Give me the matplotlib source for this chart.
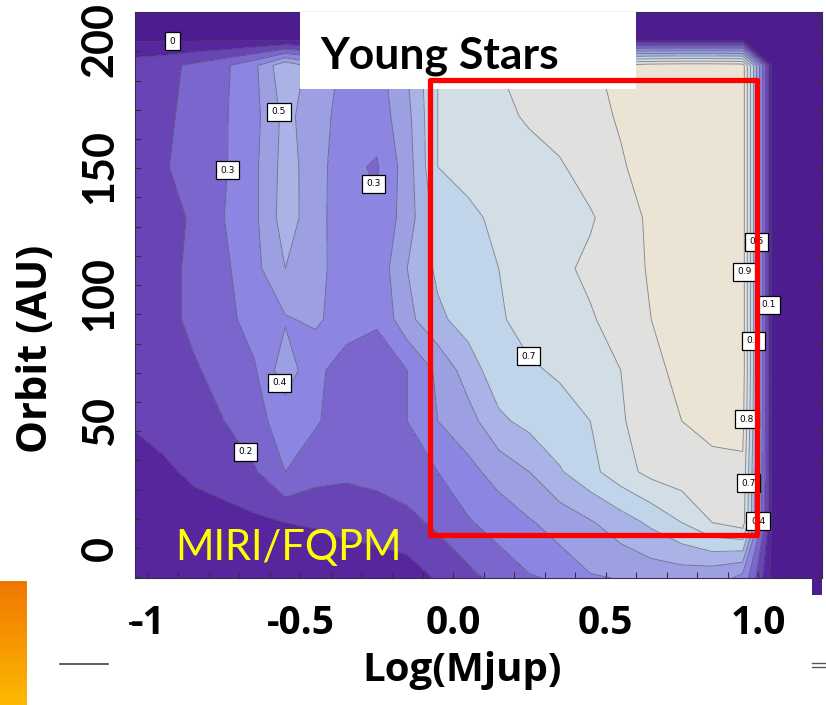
import numpy as np
import matplotlib
matplotlib.use("Agg")
import matplotlib.pyplot as plt
from matplotlib.colors import LinearSegmentedColormap
from matplotlib.patches import Rectangle
from matplotlib.lines import Line2D
from matplotlib.ticker import MultipleLocator

# grid columns: log10 of planet mass (Mjup)
log_mjup = [-1.05, -0.95, -0.85, -0.75, -0.65, -0.55, -0.45, -0.35, -0.25, -0.15,
            -0.05, 0.05, 0.15, 0.25, 0.35, 0.45, 0.55, 0.65, 0.75, 0.85,
            0.95, 1.05, 1.15, 1.25]
# grid rows: orbit (AU)
orbit_au = [-20, -10, 10, 30, 50, 70, 90, 110, 130, 150, 170, 190, 200, 215]

# detection probability, one row per orbit
prob_m20 = [0.01, 0.01, 0.01, 0.01, 0.01, 0.02, 0.02, 0.03, 0.03, 0.04, 0.07, 0.11,
            0.16, 0.20, 0.24, 0.28, 0.32, 0.34, 0.36, 0.36, 0.30, -0.05, -0.05, -0.05]
prob_m10 = [0.02, 0.02, 0.02, 0.02, 0.02, 0.03, 0.03, 0.04, 0.04, 0.06, 0.12, 0.18,
            0.25, 0.30, 0.35, 0.40, 0.43, 0.45, 0.46, 0.45, 0.40, -0.05, -0.05, -0.05]
prob_10 = [0.02, 0.03, 0.05, 0.06, 0.08, 0.10, 0.11, 0.13, 0.15, 0.17, 0.22, 0.29,
           0.34, 0.39, 0.44, 0.49, 0.55, 0.62, 0.70, 0.80, 0.85, -0.05, -0.05, -0.05]
prob_30 = [0.05, 0.08, 0.12, 0.15, 0.19, 0.30, 0.24, 0.22, 0.23, 0.26, 0.30, 0.37,
           0.44, 0.50, 0.59, 0.67, 0.76, 0.83, 0.86, 0.88, 0.88, -0.05, -0.05, -0.05]
prob_50 = [0.11, 0.14, 0.17, 0.20, 0.27, 0.34, 0.31, 0.25, 0.25, 0.30, 0.40, 0.46,
           0.58, 0.63, 0.67, 0.70, 0.79, 0.85, 0.90, 0.92, 0.93, -0.05, -0.05, -0.05]
prob_70 = [0.13, 0.15, 0.19, 0.23, 0.29, 0.46, 0.32, 0.26, 0.26, 0.30, 0.42, 0.55,
           0.66, 0.69, 0.71, 0.74, 0.80, 0.87, 0.93, 0.95, 0.95, -0.05, -0.05, -0.05]
prob_90 = [0.14, 0.17, 0.22, 0.27, 0.34, 0.39, 0.42, 0.34, 0.31, 0.47, 0.58, 0.64,
           0.69, 0.73, 0.76, 0.79, 0.84, 0.90, 0.95, 0.96, 0.95, -0.05, -0.05, -0.05]
prob_110 = [0.14, 0.17, 0.22, 0.28, 0.37, 0.50, 0.43, 0.35, 0.33, 0.50, 0.62, 0.66,
            0.70, 0.73, 0.78, 0.82, 0.86, 0.91, 0.96, 0.96, 0.95, -0.05, -0.05, -0.05]
prob_130 = [0.14, 0.17, 0.21, 0.30, 0.38, 0.55, 0.44, 0.33, 0.31, 0.45, 0.64, 0.68,
            0.72, 0.75, 0.77, 0.79, 0.85, 0.92, 0.96, 0.96, 0.95, -0.05, -0.05, -0.05]
prob_150 = [0.14, 0.19, 0.24, 0.29, 0.38, 0.54, 0.45, 0.32, 0.29, 0.45, 0.70, 0.73,
            0.75, 0.77, 0.79, 0.84, 0.89, 0.94, 0.96, 0.96, 0.95, -0.05, -0.05, -0.05]
prob_170 = [0.15, 0.18, 0.23, 0.29, 0.37, 0.53, 0.44, 0.36, 0.34, 0.47, 0.70, 0.74,
            0.78, 0.81, 0.84, 0.87, 0.91, 0.95, 0.96, 0.96, 0.95, -0.05, -0.05, -0.05]
prob_190 = [0.15, 0.17, 0.22, 0.28, 0.38, 0.58, 0.45, 0.38, 0.36, 0.50, 0.70, 0.75,
            0.80, 0.83, 0.86, 0.89, 0.92, 0.95, 0.96, 0.96, 0.95, -0.05, -0.05, -0.05]
prob_200 = [-0.01] * 21 + [-0.05] * 3
prob_215 = [-0.05] * 24

detect_prob = np.array([prob_m20, prob_m10, prob_10, prob_30, prob_50, prob_70,
                        prob_90, prob_110, prob_130, prob_150, prob_170, prob_190,
                        prob_200, prob_215])

fill_levels = [-0.1, 0.0, 0.1, 0.2, 0.3, 0.4, 0.5, 0.6, 0.7, 0.8, 0.9, 1.0]
line_levels = [0.0, 0.1, 0.2, 0.3, 0.4, 0.5, 0.6, 0.7, 0.8, 0.9]
band_colors = ['#4d1c8f', '#57259d', '#6944b5', '#7b66cd', '#8c86e2', '#9ca0e3',
               '#aab3e6', '#c1d5ea', '#d2dee6', '#e0e1de', '#ebe4d5']

# (level, log mass, orbit) where contour labels sit
label_spots = [(0.0, -0.921, 200.8), (0.5, -0.551, 172.0), (0.3, -0.738, 148.8),
               (0.3, -0.311, 141.0), (0.4, -0.577, 64.6), (0.2, -0.666, 39.0),
               (0.7, 0.203, 72.4), (0.5, 0.984, 120.5), (0.9, 0.934, 108.7),
               (0.1, 1.039, 95.7), (0.6, 0.974, 81.5), (0.8, 0.944, 50.8),
               (0.7, 0.951, 25.6), (0.4, 0.997, 10.6)]

xtick_vals = [-1.0, -0.5, 0.0, 0.5, 1.0]
xtick_text = ['-1', '-0.5', '0.0', '0.5', '1.0']
ytick_vals = [0, 50, 100, 150, 200]
ytick_text = ['0', '50', '100', '150', '200']

W, H = 826, 705


def fx(px):
    return px / W


def fy(py):
    return 1 - py / H


fig = plt.figure(figsize=(W / 100, H / 100), dpi=100)
fig.patch.set_facecolor('white')

ax = fig.add_axes([fx(135), fy(578), fx(822) - fx(135), fy(12) - fy(578)])
ax.contourf(log_mjup, orbit_au, detect_prob, levels=fill_levels, colors=band_colors)
cs = ax.contour(log_mjup, orbit_au, detect_prob, levels=line_levels,
                colors='#48485a', linewidths=0.65, alpha=0.6)

ax.set_xlim(-1.0426, 1.2098)
ax.set_ylim(-11.81, 211.02)

# one invisible contour per label so each label lands on its own level
for lev, lx, ly in label_spots:
    one = ax.contour(log_mjup, orbit_au, detect_prob, levels=[lev], colors='none')
    texts = ax.clabel(one, manual=[(lx, ly)], inline=False, fontsize=6.5,
                      fmt=lambda v: f"{v:g}", colors='black')
    for t in texts:
        t.set_bbox(dict(boxstyle='square,pad=0.5', fc='white', ec='black', lw=0.9))
        t.set_zorder(5)
        t.set_rotation(0)

ax.set_xticks(xtick_vals)
ax.set_xticklabels(xtick_text, fontfamily='Open Sans', fontweight='bold', fontsize=28)
ax.set_yticks(ytick_vals)
ax.set_yticklabels(ytick_text, fontfamily=['Liberation Sans Narrow', 'Lato'],
                   fontweight='bold', fontsize=31, rotation=90, va='center')
ax.tick_params(axis='x', which='major', length=0, pad=19)
ax.tick_params(axis='y', which='major', length=0, pad=11)
ax.xaxis.set_minor_locator(MultipleLocator(0.1))
ax.yaxis.set_minor_locator(MultipleLocator(11.5))
ax.xaxis.remove_overlapping_locs = False
ax.yaxis.remove_overlapping_locs = False
ax.tick_params(which='minor', direction='in', length=4, width=0.8, color='#333333',
               top=True, right=True)
for sp in ax.spines.values():
    sp.set_color('#3a2a5a')
    sp.set_linewidth(0.8)

# white title box and red highlight box
ax.add_patch(Rectangle((-0.5016, 180.7), 1.1016, 40, fc='white', ec='none', zorder=4))
ax.add_patch(Rectangle((-0.0738, 5.3), 1.0718, 179.1, fill=False, ec='#ff0000',
                       lw=3.8, zorder=6, joinstyle='round'))

fig.text(fx(320), fy(68), 'Young Stars', fontfamily='Lato', fontweight='bold',
         fontsize=32, va='baseline', ha='left', zorder=7)
fig.text(fx(175), fy(560), 'MIRI/FQPM', fontfamily='Lato', fontsize=30,
         color='#ffff00', va='baseline', ha='left', zorder=7)
fig.text(fx(37), fy(349), 'Orbit (AU)', fontfamily='Open Sans', fontweight='bold',
         fontsize=30, rotation=90, ha='center', va='center')
fig.text(fx(462), fy(670), 'Log(Mjup)', fontfamily='Open Sans', fontweight='bold',
         fontsize=29, ha='center', va='center')

# bits of the slide around the picture
fig.add_artist(Rectangle((fx(812), fy(595)), fx(822) - fx(812), fy(578) - fy(595),
                         transform=fig.transFigure, fc=band_colors[0], ec='none'))
fig.add_artist(Line2D([fx(60), fx(108)], [fy(664), fy(664)], color='#444444', lw=1.2))
fig.add_artist(Line2D([fx(812), fx(826)], [fy(663), fy(663)], color='#555555', lw=1))
fig.add_artist(Line2D([fx(812), fx(826)], [fy(667), fy(667)], color='#555555', lw=1))
fig.add_artist(Line2D([fx(130), fx(140)], [fy(623), fy(623)], color='black', lw=2))

bar_ax = fig.add_axes([0, 0, fx(27), 124 / H])
bar_ax.imshow(np.linspace(0, 1, 64).reshape(-1, 1), aspect='auto',
              cmap=LinearSegmentedColormap.from_list('bar', ['#f07800', '#fdb800']))
bar_ax.axis('off')

fig.savefig('out.png', dpi=100, facecolor='white')
